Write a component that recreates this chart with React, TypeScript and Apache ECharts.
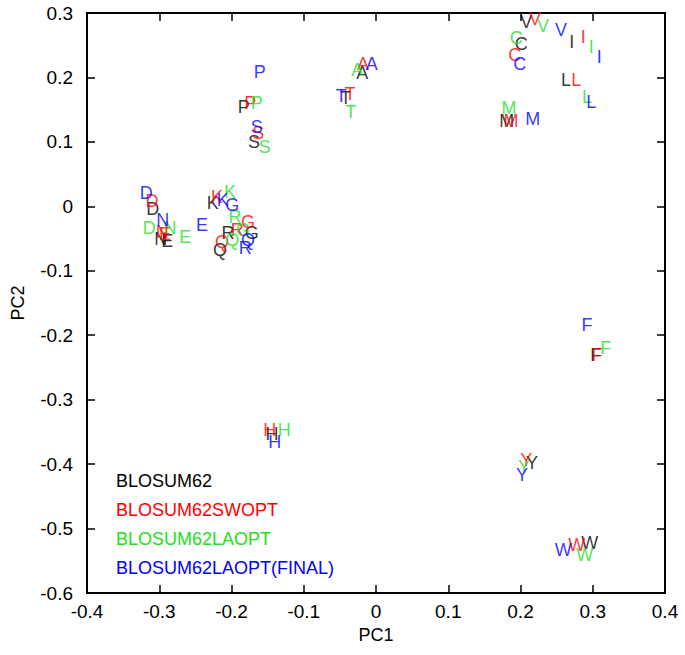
import React, { useEffect, useRef } from "react";
import * as echarts from "echarts";

const letters = ["A", "R", "N", "D", "C", "Q", "E", "G", "H", "I", "L", "K", "M", "F", "P", "S", "T", "W", "Y", "V"];

const seriesNames = ["BLOSUM62", "BLOSUM62SWOPT", "BLOSUM62LAOPT", "BLOSUM62LAOPT(FINAL)"];
const seriesColors = ["#000000", "#ff0000", "#22e022", "#0000ff"];

const blosumX = [-0.019, -0.205, -0.298, -0.309, 0.201, -0.216, -0.289, -0.172, -0.144, 0.271, 0.263, -0.226, 0.181, 0.304, -0.183, -0.169, -0.042, 0.296, 0.216, 0.208];
const blosumY = [0.207, -0.041, -0.051, -0.004, 0.252, -0.068, -0.054, -0.041, -0.353, 0.255, 0.196, 0.005, 0.132, -0.231, 0.154, 0.100, 0.168, -0.522, -0.398, 0.286];

const swoptX = [-0.018, -0.192, -0.296, -0.310, 0.192, -0.213, -0.292, -0.177, -0.147, 0.287, 0.277, -0.220, 0.187, 0.306, -0.174, -0.163, -0.036, 0.278, 0.208, 0.220];
const swoptY = [0.221, -0.037, -0.040, 0.008, 0.235, -0.055, -0.043, -0.024, -0.347, 0.263, 0.196, 0.014, 0.132, -0.231, 0.160, 0.114, 0.174, -0.526, -0.394, 0.291];

const laoptX = [-0.026, -0.195, -0.285, -0.314, 0.194, -0.199, -0.264, -0.184, -0.127, 0.298, 0.292, -0.202, 0.184, 0.318, -0.165, -0.154, -0.035, 0.289, 0.205, 0.231];
const laoptY = [0.212, -0.017, -0.034, -0.034, 0.261, -0.052, -0.048, -0.037, -0.347, 0.247, 0.170, 0.022, 0.153, -0.220, 0.160, 0.092, 0.146, -0.541, -0.405, 0.280];

const finalX = [-0.006, -0.181, -0.295, -0.318, 0.199, -0.177, -0.241, -0.199, -0.140, 0.309, 0.298, -0.212, 0.217, 0.292, -0.161, -0.165, -0.048, 0.259, 0.202, 0.256];
const finalY = [0.221, -0.065, -0.021, 0.021, 0.221, -0.052, -0.029, 0.002, -0.366, 0.232, 0.162, 0.010, 0.135, -0.184, 0.208, 0.123, 0.171, -0.533, -0.417, 0.274];

const allX = [blosumX, swoptX, laoptX, finalX];
const allY = [blosumY, swoptY, laoptY, finalY];

const FONT = "'Liberation Sans', Arial, Helvetica, sans-serif";

export default function App() {
  const ref = useRef<HTMLDivElement>(null);
  useEffect(() => {
    document.body.style.margin = "0";
    const chart = echarts.init(ref.current!, null, { renderer: "svg" });
    const fmt = (v: number) => String(Math.round(v * 10) / 10);
    const series = seriesNames.map((name, si) => ({
      name,
      type: "scatter",
      symbol: "circle",
      symbolSize: 1,
      itemStyle: { color: "rgba(0,0,0,0)" },
      emphasis: { disabled: true },
      data: letters.map((l, i) => [allX[si][i], allY[si][i], l]),
      label: {
        show: true,
        position: "inside",
        formatter: (p: any) => p.data[2],
        color: seriesColors[si],
        fontSize: 18,
        fontFamily: FONT,
      },
      z: 2 + si,
    }));
    const axisLine = { show: true, onZero: false, lineStyle: { color: "#000", width: 2 } };
    const axisTick = { show: true, inside: true, length: 8, lineStyle: { color: "#000", width: 1.5 } };
    chart.setOption({
      animation: false,
      backgroundColor: "#ffffff",
      textStyle: { fontFamily: FONT },
      grid: {
        left: 87,
        right: 20,
        top: 13,
        bottom: 62,
        show: true,
        borderColor: "#000",
        borderWidth: 2,
        backgroundColor: "transparent",
      },
      legend: {
        orient: "vertical",
        left: 106,
        top: 467,
        icon: "none",
        itemWidth: 0,
        itemHeight: 14,
        itemGap: 11,
        selectedMode: false,
        data: seriesNames.map((n, i) => ({
          name: n,
          textStyle: { color: seriesColors[i], fontSize: 18, fontFamily: FONT },
        })),
      },
      xAxis: [
        {
          type: "value",
          min: -0.4,
          max: 0.4,
          interval: 0.1,
          name: "PC1",
          nameLocation: "middle",
          nameGap: 33,
          nameTextStyle: { fontSize: 18, color: "#000", fontFamily: FONT },
          axisLine,
          axisTick,
          axisLabel: { color: "#000", fontSize: 19, margin: 9, formatter: fmt, fontFamily: FONT },
          splitLine: { show: false },
        },
        {
          type: "value",
          position: "top",
          min: -0.4,
          max: 0.4,
          interval: 0.1,
          axisLine,
          axisTick,
          axisLabel: { show: false },
          splitLine: { show: false },
        },
      ],
      yAxis: [
        {
          type: "value",
          min: -0.6,
          max: 0.3,
          interval: 0.1,
          name: "PC2",
          nameLocation: "middle",
          nameGap: 60,
          nameRotate: 90,
          nameTextStyle: { fontSize: 18, color: "#000", fontFamily: FONT },
          axisLine,
          axisTick,
          axisLabel: { color: "#000", fontSize: 19, margin: 14, formatter: fmt, fontFamily: FONT },
          splitLine: { show: false },
        },
        {
          type: "value",
          position: "right",
          min: -0.6,
          max: 0.3,
          interval: 0.1,
          axisLine,
          axisTick,
          axisLabel: { show: false },
          splitLine: { show: false },
        },
      ],
      series,
    });
    return () => chart.dispose();
  }, []);
  return (
    <div
      ref={ref}
      style={{ position: "absolute", left: 0, top: 0, width: 685, height: 655 }}
    />
  );
}
